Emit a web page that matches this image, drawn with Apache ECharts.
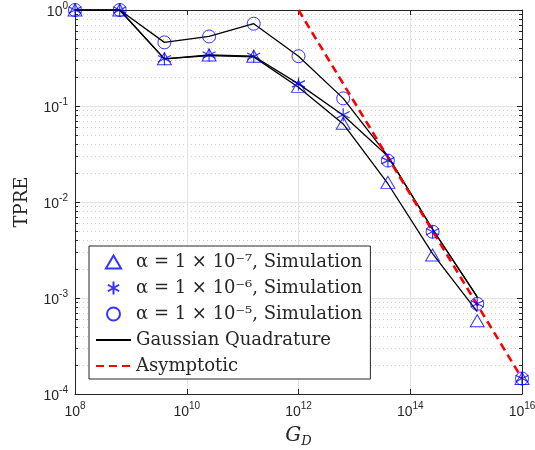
<!DOCTYPE html>
<html>
<head>
<meta charset="UTF-8">
<title>TPRE vs G_D</title>
<script src="https://cdn.jsdelivr.net/npm/echarts@6/dist/echarts.min.js"></script>
<style>
    html, body { margin: 0; padding: 0; background: #fff; }
    #chart { width: 535px; height: 450px; }
</style>
</head>
<body>
<div id="chart"></div>
<script>
    // G_D sample points (0.8 decade apart)
    const gd = [1e8, 6.31e8, 3.98e9, 2.51e10, 1.58e11, 1e12, 6.31e12, 3.98e13, 2.51e14, 1.58e15, 1e16];

    // simulation markers
    const simA7 = [1, 1, 0.31, 0.34, 0.33, 0.16, 0.066, 0.016, 0.0028, 0.00058, 0.000145];
    const simA6 = [1, 1, 0.31, 0.34, 0.33, 0.17, 0.081, 0.027, 0.0049, 0.00087, 0.000145];
    const simA5 = [1, 1, 0.46, 0.53, 0.72, 0.33, 0.12, 0.027, 0.0049, 0.00087, 0.000145];

    // gaussian quadrature curves (stop at 1.58e15)
    const gqA7 = [1, 1, 0.31, 0.335, 0.325, 0.157, 0.065, 0.0155, 0.0029, 0.00072];
    const gqA6 = [1, 1, 0.31, 0.34, 0.33, 0.17, 0.08, 0.03, 0.0052, 0.00103];
    const gqA5 = [1, 1, 0.46, 0.53, 0.72, 0.33, 0.12, 0.03, 0.0052, 0.00103];

    // asymptotic line
    const asymX = [1e12, 1e16];
    const asymY = [1, 0.000145];

    const names = {
        a7: 'α = 1 × 10⁻⁷, Simulation',
        a6: 'α = 1 × 10⁻⁶, Simulation',
        a5: 'α = 1 × 10⁻⁵, Simulation',
        gq: 'Gaussian Quadrature',
        asym: 'Asymptotic'
    };

    // minor tick values 2..9 x 10^k for the y axis
    const minorY = [];
    for (let k = -4; k < 0; k++) {
        for (let m = 2; m <= 9; m++) minorY.push(m * Math.pow(10, k));
    }

    const pairs = (xs, ys) => ys.map((v, i) => [xs[i], v]);
    const blue = '#0000ff';
    const axisCol = '#262626';
    const tri = 'path://M0,0L7,12L-7,12Z';
    const star = 'path://M0,-1L0,1M-0.866,-0.5L0.866,0.5M-0.866,0.5L0.866,-0.5';
    const noDot = { color: 'rgba(0,0,0,0)', opacity: 0, borderWidth: 0 };

    const powLabel = {
        formatter: v => '{b|10}{s|' + Math.round(Math.log10(v)) + '}',
        rich: {
            b: { fontFamily: 'Liberation Sans', fontSize: 14, color: '#262626', lineHeight: 18, verticalAlign: 'bottom' },
            s: { fontFamily: 'Liberation Sans', fontSize: 10, color: '#262626', lineHeight: 8, verticalAlign: 'top' }
        }
    };

    const chart = echarts.init(document.getElementById('chart'));
    chart.setOption({
        animation: false,
        grid: { left: 75, right: 13, top: 10, bottom: 56, outerBoundsMode: 'none', containLabel: false },
        xAxis: [{
            type: 'log', logBase: 10, min: 1e8, max: 1e16, interval: 2,
            name: '{g|G}{d|D}', nameLocation: 'middle', nameGap: 32,
            nameTextStyle: {
                rich: {
                    g: { fontFamily: 'DejaVu Serif', fontStyle: 'italic', fontSize: 20, color: '#262626', lineHeight: 22, verticalAlign: 'top' },
                    d: { fontFamily: 'DejaVu Serif', fontStyle: 'italic', fontSize: 13, color: '#262626', lineHeight: 6, verticalAlign: 'bottom' }
                }
            },
            axisLine: { lineStyle: { color: axisCol, width: 1 } },
            axisTick: { inside: true, length: 5, lineStyle: { color: axisCol } },
            axisLabel: Object.assign({ margin: 7 }, powLabel),
            splitLine: { show: true, lineStyle: { color: '#e3e3e3', width: 1 } },
            minorTick: { show: false }
        }, {
            type: 'log', logBase: 10, min: 1e8, max: 1e16, interval: 2, position: 'top',
            axisLine: { lineStyle: { color: axisCol } },
            axisTick: { inside: true, length: 5, lineStyle: { color: axisCol } },
            axisLabel: { show: false },
            splitLine: { show: false }
        }],
        yAxis: [{
            type: 'log', logBase: 10, min: 1e-4, max: 1, interval: 1,
            name: 'TPRE', nameLocation: 'middle', nameGap: 44,
            nameTextStyle: { fontFamily: 'DejaVu Serif', fontSize: 18, color: '#262626' },
            axisLine: { lineStyle: { color: axisCol } },
            axisTick: { inside: true, length: 5, lineStyle: { color: axisCol } },
            axisLabel: Object.assign({ margin: 7 }, powLabel),
            splitLine: { show: true, lineStyle: { color: '#e3e3e3', width: 1 } }
        }, {
            type: 'log', logBase: 10, min: 1e-4, max: 1, position: 'left',
            axisLine: { show: false },
            axisTick: { show: true, inside: true, length: 3, customValues: minorY, lineStyle: { color: axisCol } },
            axisLabel: { show: false },
            splitLine: { show: true, lineStyle: { color: '#d0d0d0', width: 1, type: [1, 3] } }
        }, {
            type: 'log', logBase: 10, min: 1e-4, max: 1, interval: 1, position: 'right',
            axisLine: { show: true, lineStyle: { color: axisCol } },
            axisTick: { inside: true, length: 5, lineStyle: { color: axisCol } },
            axisLabel: { show: false },
            splitLine: { show: false }
        }, {
            type: 'log', logBase: 10, min: 1e-4, max: 1, position: 'right',
            axisLine: { show: false },
            axisTick: { show: true, inside: true, length: 3, customValues: minorY, lineStyle: { color: axisCol } },
            axisLabel: { show: false },
            splitLine: { show: false }
        }],
        legend: {
            orient: 'vertical', left: 89, top: 246,
            padding: [6, 8, 3, 6], itemGap: 6,
            itemWidth: 35, itemHeight: 13,
            backgroundColor: '#fff', borderColor: axisCol, borderWidth: 1, borderRadius: 0,
            selectedMode: false,
            textStyle: { fontFamily: 'DejaVu Serif', fontSize: 18, color: '#262626', lineHeight: 20 },
            data: [names.a7, names.a6, names.a5,
                { name: names.gq, itemStyle: noDot },
                { name: names.asym, itemStyle: noDot }]
        },
        series: [
            {
                name: names.gq, type: 'line', data: pairs(gd, gqA7), symbol: 'none', z: 2,
                lineStyle: { color: '#000', width: 1.3 }, itemStyle: { color: '#000' }
            },
            {
                name: names.gq, type: 'line', data: pairs(gd, gqA6), symbol: 'none', z: 2,
                lineStyle: { color: '#000', width: 1.3 }, itemStyle: { color: '#000' }
            },
            {
                name: names.gq, type: 'line', data: pairs(gd, gqA5), symbol: 'none', z: 2,
                lineStyle: { color: '#000', width: 1.3 }, itemStyle: { color: '#000' }
            },
            {
                name: names.asym, type: 'line', data: pairs(asymX, asymY), symbol: 'none', z: 3,
                lineStyle: { color: '#ff0000', width: 2.6, type: [8, 5] }, itemStyle: { color: '#ff0000' }
            },
            {
                name: names.a7, type: 'scatter', data: pairs(gd, simA7), z: 4,
                symbol: tri, symbolSize: [14, 12],
                itemStyle: { color: 'rgba(0,0,0,0)', borderColor: blue, borderWidth: 1 }
            },
            {
                name: names.a6, type: 'scatter', data: pairs(gd, simA6), z: 4,
                symbol: star, symbolSize: 13,
                itemStyle: { color: 'rgba(0,0,0,0)', borderColor: blue, borderWidth: 1.2 }
            },
            {
                name: names.a5, type: 'scatter', data: pairs(gd, simA5), z: 4,
                symbol: 'circle', symbolSize: 13,
                itemStyle: { color: 'rgba(0,0,0,0)', borderColor: blue, borderWidth: 1 }
            }
        ]
    });
</script>
</body>
</html>
